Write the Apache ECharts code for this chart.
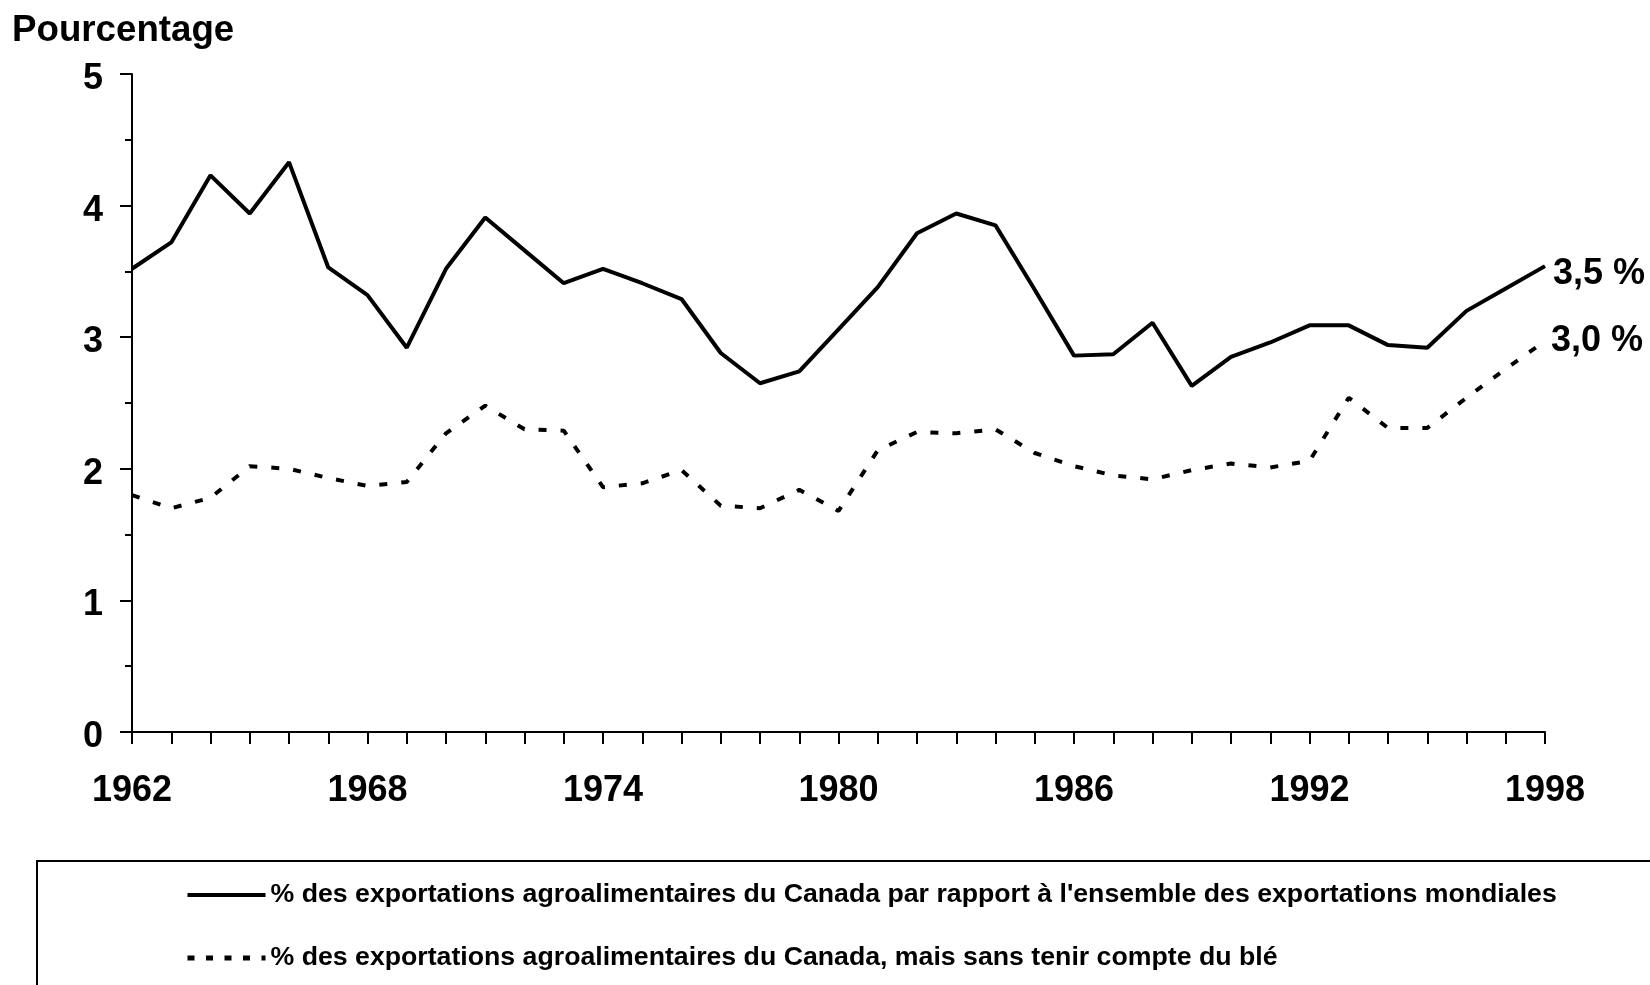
<!DOCTYPE html>
<html>
<head>
    <meta charset="utf-8">
    <title>Exportations agroalimentaires du Canada</title>
    <script src="https://cdn.jsdelivr.net/npm/echarts@6/dist/echarts.min.js"></script>
    <style>
        html, body { margin: 0; padding: 0; background: #fff; }
    </style>
</head>
<body>
<div id="main" style="width: 1650px;height:985px;"></div>
<script type="text/javascript">
    var myChart = echarts.init(document.getElementById('main'));

    // années 1962 - 1998
    var years = [];
    for (var y = 1962; y <= 1998; y++) years.push(String(y));

    // % des exportations mondiales
    var totalShare = [3.52, 3.72, 4.23, 3.94, 4.33, 3.53, 3.32, 2.92, 3.52, 3.91,
        3.66, 3.41, 3.52, 3.41, 3.29, 2.88, 2.65, 2.74, 3.06, 3.38,
        3.79, 3.94, 3.85, 3.36, 2.86, 2.87, 3.11, 2.63, 2.85, 2.96,
        3.09, 3.09, 2.94, 2.92, 3.20, 3.37, 3.54];

    // même chose, sans le blé
    var noWheatShare = [1.80, 1.70, 1.78, 2.02, 2.00, 1.93, 1.87, 1.90, 2.27, 2.48,
        2.30, 2.29, 1.86, 1.89, 1.99, 1.72, 1.70, 1.84, 1.68, 2.14,
        2.28, 2.27, 2.30, 2.12, 2.02, 1.95, 1.92, 1.99, 2.04, 2.01,
        2.06, 2.54, 2.31, 2.31, 2.54, 2.76, 2.97];

    var seriesNames = [
        "% des exportations agroalimentaires du Canada par rapport à l'ensemble des exportations mondiales",
        "% des exportations agroalimentaires du Canada, mais sans tenir compte du blé"
    ];

    var font = 'Liberation Sans, Arial, sans-serif';

    function endText(p) {
        return p.value.toFixed(1).replace('.', ',') + ' %';
    }

    var option = {
        backgroundColor: '#fff',
        animation: false,
        title: {
            text: 'Pourcentage',
            left: 12,
            top: 12,
            padding: 0,
            textStyle: {
                color: '#000',
                fontFamily: font,
                fontWeight: 'bold',
                fontSize: 36.7
            }
        },
        // cadre de la légende (il dépasse à droite et en bas)
        graphic: [{
            type: 'rect',
            shape: { x: 37, y: 861, width: 1700, height: 300 },
            style: { fill: 'none', stroke: '#000', lineWidth: 2 },
            silent: true
        }],
        legend: {
            orient: 'vertical',
            left: 185,
            top: 880,
            padding: 0,
            itemWidth: 78,
            itemHeight: 2,
            itemGap: 33,
            selectedMode: false,
            textStyle: {
                color: '#000',
                fontFamily: font,
                fontWeight: 'bold',
                fontSize: 26.7,
                lineHeight: 30
            },
            data: [{
                name: seriesNames[0],
                lineStyle: { width: 4, type: 'solid' }
            }, {
                name: seriesNames[1],
                lineStyle: { width: 5, type: [7, 11.5] }
            }]
        },
        grid: {
            left: 132,
            right: 105,
            top: 74,
            bottom: 253
        },
        xAxis: {
            type: 'category',
            boundaryGap: false,
            data: years,
            axisLine: { lineStyle: { color: '#000', width: 2 } },
            axisTick: {
                show: true,
                interval: 0,
                length: 12,
                lineStyle: { color: '#000', width: 2 }
            },
            axisLabel: {
                interval: 5,
                margin: 41,
                color: '#000',
                fontFamily: font,
                fontWeight: 'bold',
                fontSize: 36
            },
            splitLine: { show: false }
        },
        yAxis: {
            type: 'value',
            min: 0,
            max: 5,
            interval: 1,
            axisLine: { show: true, lineStyle: { color: '#000', width: 2 } },
            axisTick: {
                show: true,
                length: 12,
                lineStyle: { color: '#000', width: 2 }
            },
            minorTick: {
                show: true,
                splitNumber: 2,
                length: 7,
                lineStyle: { color: '#000', width: 2 }
            },
            axisLabel: {
                margin: 29,
                formatter: '{v|{value}}',
                rich: {
                    v: {
                        padding: [10, 0, 0, 0],
                        color: '#000',
                        fontFamily: font,
                        fontWeight: 'bold',
                        fontSize: 36
                    }
                }
            },
            splitLine: { show: false }
        },
        series: [{
            name: seriesNames[0],
            type: 'line',
            data: totalShare,
            symbol: 'none',
            lineStyle: { color: '#000', width: 4, type: 'solid' },
            itemStyle: { color: '#000' },
            endLabel: {
                show: true,
                formatter: endText,
                distance: 8,
                offset: [0, 8],
                color: '#000',
                fontFamily: font,
                fontWeight: 'bold',
                fontSize: 36
            }
        }, {
            name: seriesNames[1],
            type: 'line',
            data: noWheatShare,
            symbol: 'none',
            lineStyle: { color: '#000', width: 4, type: [8, 14] },
            itemStyle: { color: '#000' },
            endLabel: {
                show: true,
                formatter: endText,
                distance: 6,
                color: '#000',
                fontFamily: font,
                fontWeight: 'bold',
                fontSize: 36
            }
        }]
    };

    myChart.setOption(option);
</script>
</body>
</html>
